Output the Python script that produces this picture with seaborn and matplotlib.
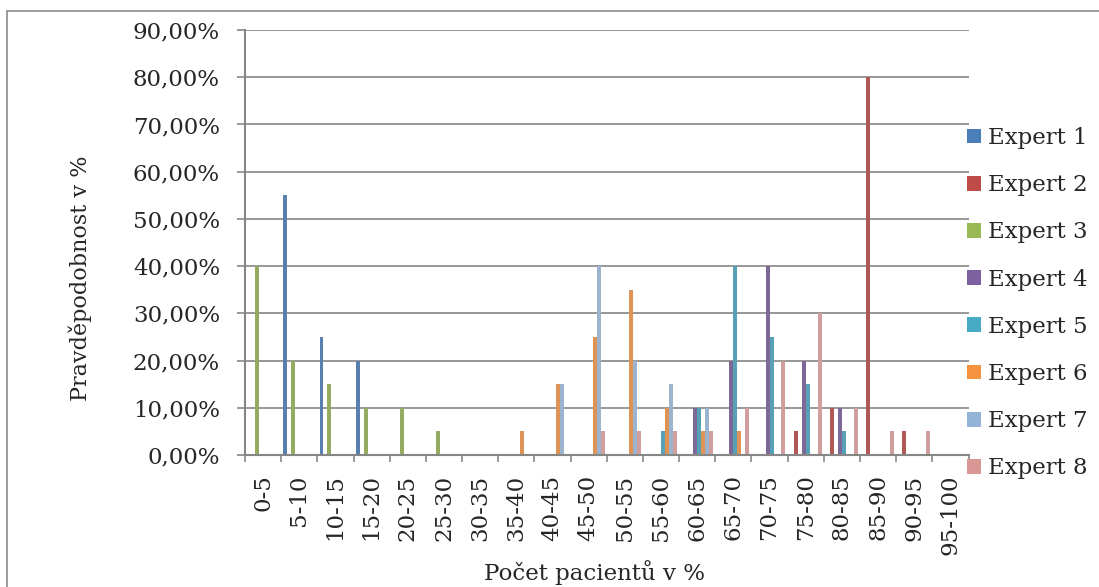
import matplotlib
matplotlib.use("Agg")
import matplotlib.pyplot as plt
import seaborn as sns
import pandas as pd
import numpy as np
from matplotlib.patches import Patch
from matplotlib.lines import Line2D
from matplotlib.ticker import FixedLocator, FuncFormatter

categories = ["0-5", "5-10", "10-15", "15-20", "20-25", "25-30", "30-35", "35-40",
              "40-45", "45-50", "50-55", "55-60", "60-65", "65-70", "70-75", "75-80",
              "80-85", "85-90", "90-95", "95-100"]
experts = ["Expert 1", "Expert 2", "Expert 3", "Expert 4",
           "Expert 5", "Expert 6", "Expert 7", "Expert 8"]

expert_1 = [0, 55, 25, 20, 0, 0, 0, 0, 0, 0, 0, 0, 0, 0, 0, 0, 0, 0, 0, 0]
expert_2 = [0, 0, 0, 0, 0, 0, 0, 0, 0, 0, 0, 0, 0, 0, 0, 5, 10, 80, 5, 0]
expert_3 = [40, 20, 15, 10, 10, 5, 0, 0, 0, 0, 0, 0, 0, 0, 0, 0, 0, 0, 0, 0]
expert_4 = [0, 0, 0, 0, 0, 0, 0, 0, 0, 0, 0, 0, 10, 20, 40, 20, 10, 0, 0, 0]
expert_5 = [0, 0, 0, 0, 0, 0, 0, 0, 0, 0, 0, 5, 10, 40, 25, 15, 5, 0, 0, 0]
expert_6 = [0, 0, 0, 0, 0, 0, 0, 5, 15, 25, 35, 10, 5, 5, 0, 0, 0, 0, 0, 0]
expert_7 = [0, 0, 0, 0, 0, 0, 0, 0, 15, 40, 20, 15, 10, 0, 0, 0, 0, 0, 0, 0]
expert_8 = [0, 0, 0, 0, 0, 0, 0, 0, 0, 5, 5, 5, 5, 10, 20, 30, 10, 5, 5, 0]

series = [expert_1, expert_2, expert_3, expert_4, expert_5, expert_6, expert_7, expert_8]
colors = ["#4A7EBB", "#BE4B48", "#98B954", "#7D60A0", "#46AAC5", "#F69240", "#94B3D6", "#D99694"]

rows = []
for name, vals in zip(experts, series):
    for cat, v in zip(categories, vals):
        rows.append({"category": cat, "expert": name, "value": v})
df = pd.DataFrame(rows)

sns.set_style("white")
plt.rcParams["font.family"] = ["DejaVu Serif"]
FS = 16.5
GRID = "#868686"

fig = plt.figure(figsize=(10.99, 5.87), dpi=100)
W, H = 1099, 587
ax = fig.add_axes([245 / W, 1 - 455 / H, (968.5 - 245) / W, (455 - 30) / H])

sns.barplot(data=df, x="category", y="value", hue="expert", order=categories,
            hue_order=experts, palette=colors, width=0.88, gap=0,
            linewidth=0, errorbar=None, legend=False, ax=ax)

ax.set_xlim(-0.5, len(categories) - 0.5)
ax.set_ylim(0, 90)
ax.set_yticks(np.arange(0, 91, 10))
ax.yaxis.set_major_formatter(FuncFormatter(lambda v, p: f"{v:.2f}%".replace(".", ",")))
ax.yaxis.grid(True, color=GRID, linewidth=1.2)
ax.set_axisbelow(True)
ax.tick_params(axis="y", which="major", length=6, width=1.2, color=GRID,
               pad=12, labelsize=FS, left=True)

ax.set_xticks(range(len(categories)))
ax.set_xticklabels(categories, rotation=90, fontsize=FS, va="top", ha="center")
ax.tick_params(axis="x", which="major", length=0, pad=14, bottom=False)
ax.xaxis.set_minor_locator(FixedLocator(np.arange(-0.5, len(categories), 1.0)))
ax.tick_params(axis="x", which="minor", length=5, width=1.2, color=GRID, bottom=True)

for s in ["top", "right"]:
    ax.spines[s].set_visible(False)
for s in ["left", "bottom"]:
    ax.spines[s].set_color(GRID)
    ax.spines[s].set_linewidth(1.5)

ax.set_xlabel("")
ax.set_ylabel("")
fig.text(594 / W, 1 - 573 / H, "Počet pacientů v %", ha="center", va="center", fontsize=FS)
fig.text(80 / W, 1 - 278 / H, "Pravděpodobnost v %", ha="center", va="center",
         rotation=90, fontsize=16)

handles = [Patch(facecolor=c, edgecolor="none") for c in colors]
fig.legend(handles, experts, loc="upper left", bbox_to_anchor=(967 / W, 1 - 127 / H),
           frameon=False, fontsize=FS, handlelength=0.62, handleheight=0.62,
           handletextpad=0.3, labelspacing=1.1, borderpad=0, borderaxespad=0)

fig.add_artist(Line2D([7 / W, 7 / W], [0, 1 - 11 / H], transform=fig.transFigure,
                      color="#8C8C8C", linewidth=1.2))
fig.add_artist(Line2D([7 / W, 1], [1 - 11 / H, 1 - 11 / H], transform=fig.transFigure,
                      color="#8C8C8C", linewidth=1.2))

fig.savefig("out.png", dpi=100)
